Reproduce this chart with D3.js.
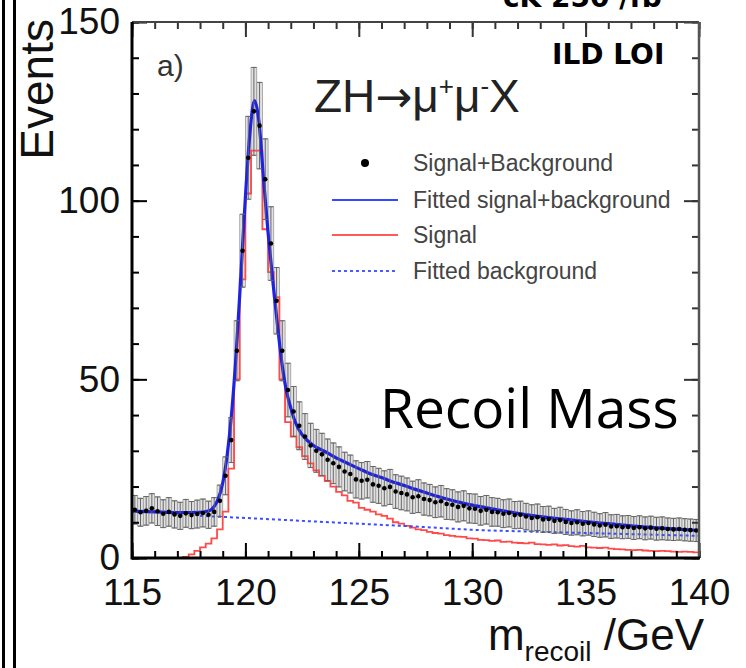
<!DOCTYPE html>
<html>
<head>
<meta charset="utf-8" />
<title>ZH recoil mass</title>
<script src="https://d3js.org/d3.v7.min.js"></script>
<style>
  body { margin: 0; background: #fff; }
  svg text { font-family: "Liberation Sans", Arial, sans-serif; }
</style>
</head>
<body>
<div id="chart"></div>
<script>
// m_recoil histogram, 0.25 GeV bins from 115 to 140
var massLo = 115, massHi = 140, binWidth = 0.25;

var signalPlusBkg = [
  13.5, 12.8, 13.2, 13.9, 13.1, 12.4, 12.9, 12.2, 11.8, 12.5,
  12.0, 12.3, 12.6, 12.1, 12.9, 16, 23, 33, 58, 86,
  112, 125, 121, 106, 88, 72, 58, 47, 41, 37,
  34, 31.5, 30, 29, 27.5, 26.5, 25.5, 24.2, 23.5, 22.0,
  21.6, 21.9, 20.6, 20.2, 19.5, 19.9, 18.6, 18.2, 17.8, 17.0,
  17.3, 16.5, 16.2, 15.6, 15.9, 15.1, 14.9, 14.3, 14.6, 13.9,
  13.8, 13.2, 13.5, 12.9, 12.8, 12.4, 12.6, 12.0, 12.1, 11.6,
  11.2, 11.4, 10.8, 10.9, 10.4, 10.6, 10.1, 9.8, 10.0, 9.6,
  9.8, 9.4, 9.1, 9.3, 8.8, 8.9, 8.6, 8.7, 8.4, 8.6,
  8.3, 8.5, 8.2, 8.3, 8.1, 8.0, 8.1, 7.9, 7.8, 7.7
];
var statErr = [
  4.0, 3.9, 4.0, 4.1, 4.0, 3.9, 4.0, 3.8, 3.8, 3.9,
  3.8, 3.9, 3.9, 3.8, 4.0, 4.4, 5.3, 6.3, 8.4, 10.2,
  11.6, 12.3, 12.1, 11.3, 10.3, 9.3, 8.4, 7.5, 7.0, 6.7,
  6.4, 6.2, 6.0, 5.9, 5.8, 5.7, 5.6, 5.4, 5.3, 5.2,
  5.1, 5.1, 5.0, 4.9, 4.9, 4.9, 4.7, 4.7, 4.6, 4.5,
  4.6, 4.5, 4.4, 4.3, 4.4, 4.3, 4.2, 4.2, 4.2, 4.1,
  4.1, 4.0, 4.0, 4.0, 3.9, 3.9, 3.9, 3.8, 3.8, 3.7,
  3.7, 3.7, 3.6, 3.6, 3.5, 3.6, 3.5, 3.4, 3.5, 3.4,
  3.4, 3.4, 3.3, 3.4, 3.3, 3.3, 3.2, 3.2, 3.2, 3.2,
  3.2, 3.2, 3.2, 3.2, 3.1, 3.1, 3.1, 3.1, 3.1, 3.1
];
var signalHist = [
  0, 0, 0, 0, 0, 0, 0, 0, 0, 0.3,
  1, 2, 3, 4, 5.5, 8, 13, 25, 50, 78,
  102, 114, 114, 92, 80, 73, 50, 38, 34, 31,
  28.5, 26.5, 24.5, 23, 21.5, 20, 18.5, 17.5, 16, 15.5,
  14, 13.5, 13, 12.2, 11.8, 11, 10, 9.6, 9, 8.5,
  8, 7.8, 7.3, 7.0, 6.8, 6.4, 6.2, 6.0, 5.9, 5.5,
  5.4, 5.1, 5.0, 4.8, 4.9, 4.5, 4.6, 4.3, 4.2, 4.1,
  4.3, 3.9, 3.8, 3.7, 3.8, 3.5, 3.6, 3.3, 3.2, 3.4,
  3.0, 2.9, 2.8, 2.9, 2.6, 2.5, 2.4, 2.3, 2.2, 2.3,
  2.1, 2.0, 1.9, 2.0, 1.9, 1.8, 1.7, 1.8, 1.7, 1.6
];

// fitted signal+background curve
var fitMass = [115, 116, 117, 118, 118.4, 118.6, 118.8, 119, 119.2, 119.4,
  119.6, 119.8, 120, 120.2, 120.4, 120.6, 120.8, 121, 121.2, 121.4,
  121.6, 121.8, 122, 122.2, 122.5, 123, 123.5, 124, 124.5, 125,
  125.5, 126, 126.5, 127, 127.5, 128, 128.5, 129, 129.5, 130,
  131, 132, 133, 134, 135, 136, 137, 138, 139, 140];
var fitEvents = [13.1, 12.9, 12.7, 12.8, 13.2, 14.2, 16.5, 21, 29, 41,
  58, 79, 101, 119, 128, 122, 106, 91, 78, 66,
  55, 47, 42, 38, 34.5, 31.5, 29.8, 28, 26.5, 25,
  23.6, 22.5, 21.3, 20.3, 19.2, 18.2, 17.2, 16.3, 15.5, 14.8,
  13.6, 12.5, 11.6, 10.9, 10.2, 9.6, 9.0, 8.5, 8.1, 7.7];

// fitted background
var bkgMass = [118, 120, 122.5, 125, 127.5, 130, 132.5, 135, 137.5, 140];
var bkgEvents = [11.8, 11.2, 10.4, 9.6, 8.8, 7.9, 7.4, 7.0, 6.6, 6.2];

var xTicks = [115, 120, 125, 130, 135, 140];
var yTicks = [0, 50, 100, 150];
var legendLabels = ["Signal+Background", "Fitted signal+background", "Signal", "Fitted background"];

var W = 746, H = 668;
var margin = {top: 22, right: 47, bottom: 110, left: 132};
var width = W - margin.left - margin.right,
    height = H - margin.top - margin.bottom;

var svg = d3.select("#chart").append("svg")
    .attr("width", W)
    .attr("height", H);

// double border on the left of the slide
[3.5, 14.5].forEach(function(xx) {
  svg.append("line")
    .attr("x1", xx).attr("x2", xx).attr("y1", 0).attr("y2", H)
    .style("stroke", "black").style("stroke-width", 3);
});

var g = svg.append("g")
    .attr("transform", "translate(" + margin.left + "," + margin.top + ")");

var x = d3.scaleLinear().domain([massLo, massHi]).range([0, width]);
var y = d3.scaleLinear().domain([0, 150]).range([height, 0]);

g.append("clipPath").attr("id", "plotClip")
  .append("rect").attr("width", width).attr("height", height);

var plot = g.append("g").attr("clip-path", "url(#plotClip)");

var bins = signalPlusBkg.map(function(v, i) {
  return {lo: massLo + i * binWidth, c: massLo + (i + 0.5) * binWidth, v: v, e: statErr[i]};
});
var bw = x(massLo + binWidth) - x(massLo);

// error boxes
plot.selectAll(".errbox")
  .data(bins)
  .enter().append("rect")
  .attr("class", "errbox")
  .attr("x", function(d) { return x(d.lo); })
  .attr("width", bw)
  .attr("y", function(d) { return y(d.v + d.e); })
  .attr("height", function(d) { return y(d.v - d.e) - y(d.v + d.e); })
  .style("fill", "#e0e0e0")
  .style("stroke", "#9a9a9a")
  .style("stroke-width", 0.8);

// signal histogram
var sigPts = signalHist.map(function(v, i) { return [massLo + i * binWidth, v]; });
sigPts.push([massHi, signalHist[signalHist.length - 1]]);
plot.append("path")
  .datum(sigPts)
  .attr("d", d3.line()
    .curve(d3.curveStepAfter)
    .x(function(d) { return x(d[0]); })
    .y(function(d) { return y(d[1]); }))
  .style("fill", "none")
  .style("stroke", "#ff4a4a")
  .style("stroke-width", 1.8);

// fitted background
plot.append("path")
  .datum(d3.zip(bkgMass, bkgEvents))
  .attr("d", d3.line()
    .curve(d3.curveMonotoneX)
    .x(function(d) { return x(d[0]); })
    .y(function(d) { return y(d[1]); }))
  .style("fill", "none")
  .style("stroke", "#3a4dff")
  .style("stroke-width", 2)
  .style("stroke-dasharray", "3,3");

// fitted signal+background
plot.append("path")
  .datum(d3.zip(fitMass, fitEvents))
  .attr("d", d3.line()
    .curve(d3.curveMonotoneX)
    .x(function(d) { return x(d[0]); })
    .y(function(d) { return y(d[1]); }))
  .style("fill", "none")
  .style("stroke", "#1f22e0")
  .style("stroke-width", 3.2);

// error bar caps + data points
plot.selectAll(".cap")
  .data(bins)
  .enter().append("path")
  .attr("class", "cap")
  .attr("d", function(d) {
    var cx = x(d.c), t = y(d.v + d.e), b = y(d.v - d.e);
    return "M" + (cx - 2.5) + "," + t + "H" + (cx + 2.5) +
           "M" + (cx - 2.5) + "," + b + "H" + (cx + 2.5) +
           "M" + cx + "," + t + "V" + b;
  })
  .style("stroke", "#666")
  .style("stroke-width", 1);

plot.selectAll(".pt")
  .data(bins)
  .enter().append("circle")
  .attr("class", "pt")
  .attr("cx", function(d) { return x(d.c); })
  .attr("cy", function(d) { return y(d.v); })
  .attr("r", 2.3)
  .style("fill", "black");

// axes: ROOT-style ticks on all four sides, pointing inward
var minorX = d3.range(massLo, massHi + 1, 1);
var minorY = d3.range(0, 151, 10);

function styleAxis(sel, col) {
  sel.select(".domain").remove();
  sel.selectAll(".tick line").style("stroke", col).style("stroke-width", 2);
  sel.selectAll("text")
    .attr("font-family", "Liberation Sans, Arial, sans-serif")
    .attr("font-size", 37)
    .attr("fill", "#111");
}

g.append("g").attr("transform", "translate(0," + height + ")")
  .call(d3.axisBottom(x).tickValues(minorX).tickSize(-7).tickFormat(""))
  .call(styleAxis, "black");
g.append("g").attr("transform", "translate(0," + height + ")")
  .call(d3.axisBottom(x).tickValues(xTicks).tickSizeInner(-15).tickSizeOuter(0)
    .tickPadding(21).tickFormat(d3.format("d")))
  .call(styleAxis, "black");
g.append("g")
  .call(d3.axisTop(x).tickValues(minorX).tickSize(-7).tickFormat(""))
  .call(styleAxis, "#333");
g.append("g")
  .call(d3.axisTop(x).tickValues(xTicks).tickSize(-15).tickFormat(""))
  .call(styleAxis, "#333");

g.append("g")
  .call(d3.axisLeft(y).tickValues(minorY).tickSize(-7).tickFormat(""))
  .call(styleAxis, "black");
g.append("g")
  .call(d3.axisLeft(y).tickValues(yTicks).tickSizeInner(-15).tickSizeOuter(0)
    .tickPadding(12).tickFormat(d3.format("d")))
  .call(styleAxis, "black");
g.append("g").attr("transform", "translate(" + width + ",0)")
  .call(d3.axisRight(y).tickValues(minorY).tickSize(-7).tickFormat(""))
  .call(styleAxis, "#333");
g.append("g").attr("transform", "translate(" + width + ",0)")
  .call(d3.axisRight(y).tickValues(yTicks).tickSize(-15).tickFormat(""))
  .call(styleAxis, "#333");

// frame
g.append("line").attr("x1", 0).attr("x2", width).attr("y1", 0).attr("y2", 0)
  .style("stroke", "#444").style("stroke-width", 2);
g.append("line").attr("x1", width).attr("x2", width).attr("y1", 0).attr("y2", height)
  .style("stroke", "#555").style("stroke-width", 2.5);
g.append("line").attr("x1", 0).attr("x2", 0).attr("y1", 0).attr("y2", height + 1.5)
  .style("stroke", "black").style("stroke-width", 3);
g.append("line").attr("x1", 0).attr("x2", width + 1).attr("y1", height).attr("y2", height)
  .style("stroke", "black").style("stroke-width", 3);

// axis titles
svg.append("text")
  .attr("transform", "translate(53,19) rotate(-90)")
  .attr("text-anchor", "end")
  .attr("font-size", 46)
  .attr("fill", "#111")
  .text("Events");

var xt = svg.append("text")
  .attr("x", 704).attr("y", 650)
  .attr("text-anchor", "end")
  .attr("font-size", 44)
  .attr("fill", "#111");
xt.append("tspan").text("m");
xt.append("tspan").attr("font-size", 28).attr("dy", 11).text("recoil");
xt.append("tspan").attr("dy", -11).text(" /GeV");

// annotations inside the frame
svg.append("text")
  .attr("x", 157).attr("y", 76)
  .attr("font-size", 30).attr("fill", "#333")
  .text("a)");

var proc = svg.append("text")
  .attr("x", 314).attr("y", 112)
  .attr("font-size", 46).attr("fill", "#222");
proc.append("tspan").text("ZH");
proc.append("tspan").style("font-family", "DejaVu Sans, sans-serif").attr("font-size", 44).text("\u2192");
proc.append("tspan").text("\u03bc");
proc.append("tspan").attr("font-size", 26).attr("dy", -17).text("+");
proc.append("tspan").attr("dy", 17).text("\u03bc");
proc.append("tspan").attr("font-size", 26).attr("dy", -17).text("-");
proc.append("tspan").attr("dy", 17).text("X");

// legend
var legRows = [163, 200, 235, 271];
var leg = svg.append("g");
leg.append("circle").attr("cx", 365).attr("cy", legRows[0]).attr("r", 4).style("fill", "black");
leg.append("line").attr("x1", 332).attr("x2", 398).attr("y1", legRows[1]).attr("y2", legRows[1])
  .style("stroke", "#3348ff").style("stroke-width", 2.2);
leg.append("line").attr("x1", 332).attr("x2", 398).attr("y1", legRows[2]).attr("y2", legRows[2])
  .style("stroke", "#ff5a5a").style("stroke-width", 2.2);
leg.append("line").attr("x1", 332).attr("x2", 398).attr("y1", legRows[3]).attr("y2", legRows[3])
  .style("stroke", "#4a5cff").style("stroke-width", 2).style("stroke-dasharray", "3,3");
leg.selectAll(".legtxt")
  .data(legendLabels)
  .enter().append("text")
  .attr("class", "legtxt")
  .attr("x", 413)
  .attr("y", function(d, i) { return legRows[i] + 8; })
  .attr("font-size", 23)
  .attr("fill", "#444")
  .text(function(d) { return d; });

// slide overlays
svg.append("text")
  .attr("x", 552).attr("y", 64)
  .style("font-family", "DejaVu Sans, sans-serif")
  .style("font-weight", "bold")
  .attr("font-size", 28)
  .text("ILD LOI");
svg.append("text")
  .attr("x", 503).attr("y", 7)
  .style("font-family", "DejaVu Sans, sans-serif")
  .style("font-weight", "bold")
  .attr("font-size", 28)
  .text("cK 250 /fb");
svg.append("text")
  .attr("x", 380).attr("y", 428)
  .style("font-family", "Open Sans, sans-serif")
  .attr("font-size", 55)
  .attr("fill", "black")
  .text("Recoil Mass");
</script>
</body>
</html>
